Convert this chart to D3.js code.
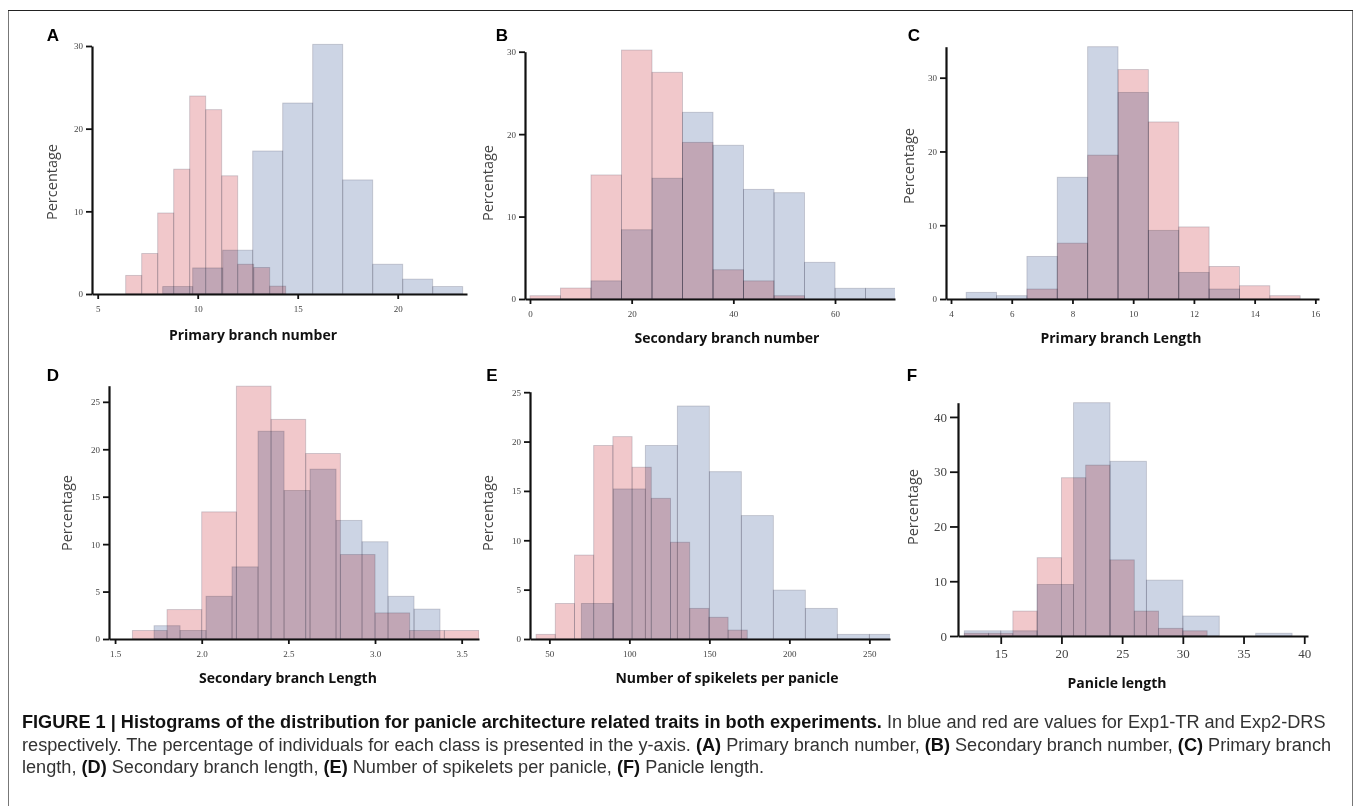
<!DOCTYPE html>
<html lang="en">
<head>
<meta charset="utf-8">
<title>Figure 1 - panicle histograms</title>
<style>
  body { margin: 0; background: #fff; }
  .tick text { font-family: "Liberation Serif", "DejaVu Serif", serif; fill: #444; }
  .axis .domain { stroke: #111; stroke-width: 2.2; }
  .axis .tick line { stroke: #111; stroke-width: 1.8; }
  .ylab { font-family: "Open Sans", sans-serif; font-size: 14.5px; fill: #444; }
  .xlab { font-family: "Open Sans", sans-serif; font-size: 14px; font-weight: bold; fill: #111; }
  .letter { font-family: "Liberation Sans", Arial, sans-serif; font-size: 17px; font-weight: bold; fill: #000; }
  .caption { font-family: "Liberation Sans", Arial, sans-serif; fill: #222; }
</style>
</head>
<body>
<script src="https://cdnjs.cloudflare.com/ajax/libs/d3/7.9.0/d3.min.js"></script>
<script>

// A - primary branch number
const aBlueEdges = [8.25, 9.75, 11.25, 12.75, 14.25, 15.75, 17.25, 18.75, 20.25, 21.75, 23.25];
const aBluePct = [0.9, 3.15, 5.3, 17.3, 23.1, 30.2, 13.8, 3.6, 1.8, 0.9];
const aRedEdges = [6.4, 7.2, 8.0, 8.8, 9.6, 10.4, 11.2, 12.0, 12.8, 13.6, 14.4];
const aRedPct = [2.25, 4.9, 9.8, 15.1, 23.95, 22.3, 14.3, 3.6, 3.2, 0.95];
const aXTicks = [5, 10, 15, 20];
const aYTicks = [0, 10, 20, 30];

// B - secondary branch number
const bBlueEdges = [12, 18, 24, 30, 36, 42, 48, 54, 60, 66, 72];
const bBluePct = [2.2, 8.4, 14.65, 22.65, 18.65, 13.3, 12.9, 4.45, 1.3, 1.3];
const bRedEdges = [0, 6, 12, 18, 24, 30, 36, 42, 48, 54];
const bRedPct = [0.4, 1.33, 15.05, 30.2, 27.5, 19.0, 3.55, 2.2, 0.4];
const bXTicks = [0, 20, 40, 60];
const bYTicks = [0, 10, 20, 30];

// C - primary branch length
const cBlueEdges = [4.5, 5.5, 6.5, 7.5, 8.5, 9.5, 10.5, 11.5, 12.5, 13.5];
const cBluePct = [0.9, 0.45, 5.77, 16.5, 34.2, 28.0, 9.3, 3.6, 1.35];
const cRedEdges = [6.5, 7.5, 8.5, 9.5, 10.5, 11.5, 12.5, 13.5, 14.5, 15.5];
const cRedPct = [1.35, 7.57, 19.5, 31.1, 24.0, 9.77, 4.41, 1.8, 0.45];
const cXTicks = [4, 6, 8, 10, 12, 14, 16];
const cYTicks = [0, 10, 20, 30];

// D - secondary branch length
const dBlueEdges = [1.725, 1.875, 2.025, 2.175, 2.325, 2.475, 2.625, 2.775, 2.925, 3.075, 3.225, 3.375];
const dBluePct = [1.4, 0.9, 4.5, 7.6, 21.9, 15.65, 17.9, 12.5, 10.25, 4.5, 3.15];
const dRedEdges = [1.6, 1.8, 2.0, 2.2, 2.4, 2.6, 2.8, 3.0, 3.2, 3.4, 3.6];
const dRedPct = [0.9, 3.1, 13.4, 26.65, 23.15, 19.55, 8.9, 2.75, 0.9, 0.9];
const dXTicks = [1.5, 2.0, 2.5, 3.0, 3.5];
const dYTicks = [0, 5, 10, 15, 20, 25];

// E - number of spikelets per panicle
const eBlueEdges = [70, 90, 110, 130, 150, 170, 190, 210, 230, 250, 270];
const eBluePct = [3.6, 15.2, 19.6, 23.6, 16.95, 12.5, 4.95, 3.1, 0.47, 0.47];
const eRedEdges = [41.7, 53.7, 65.7, 77.7, 89.7, 101.7, 113.7, 125.7, 137.7, 149.7, 161.7, 173.7];
const eRedPct = [0.47, 3.6, 8.5, 19.6, 20.5, 17.4, 14.25, 9.8, 3.1, 2.2, 0.9];
const eXTicks = [50, 100, 150, 200, 250];
const eYTicks = [0, 5, 10, 15, 20, 25];

// F - panicle length
const fBlueEdges = [12, 15, 18, 21, 24, 27, 30, 33, 36, 39];
const fBluePct = [0.95, 0.95, 9.4, 42.6, 31.9, 10.2, 3.65, 0, 0.5];
const fRedEdges = [12, 14, 16, 18, 20, 22, 24, 26, 28, 30, 32];
const fRedPct = [0.5, 0.5, 4.55, 14.3, 28.9, 31.2, 13.9, 4.55, 1.4, 0.95];
const fXTicks = [15, 20, 25, 30, 35, 40];
const fYTicks = [0, 10, 20, 30, 40];

const blueFill = "#ccd4e4";
const redFill = "#f1c8cb";

const panels = [
    {id: "A", title: "Primary branch number", blue: [aBlueEdges, aBluePct], red: [aRedEdges, aRedPct],
     xTicks: aXTicks, yTicks: aYTicks, fmt: "d", big: false,
     left: 92, right: 467, bottom: 294, top: 46, xDomain: [4.715, 23.465], yDomain: [0, 30],
     letter: [53, 35], ylab: [51, 182], xlab: [253, 340]},
    {id: "B", title: "Secondary branch number", blue: [bBlueEdges, bBluePct], red: [bRedEdges, bRedPct],
     xTicks: bXTicks, yTicks: bYTicks, fmt: "d", big: false,
     left: 525, right: 895, bottom: 299, top: 51.7, xDomain: [-0.98, 71.8], yDomain: [0, 30],
     letter: [502, 35], ylab: [487, 183], xlab: [727, 343]},
    {id: "C", title: "Primary branch Length", blue: [cBlueEdges, cBluePct], red: [cRedEdges, cRedPct],
     xTicks: cXTicks, yTicks: cYTicks, fmt: "d", big: false,
     left: 946, right: 1319, bottom: 299, top: 46.7, xDomain: [3.835, 16.12], yDomain: [0, 34.2],
     letter: [914, 35], ylab: [908, 166], xlab: [1121, 343]},
    {id: "D", title: "Secondary branch Length", blue: [dBlueEdges, dBluePct], red: [dRedEdges, dRedPct],
     xTicks: dXTicks, yTicks: dYTicks, fmt: ".1f", big: false,
     left: 109, right: 479, bottom: 639, top: 385.7, xDomain: [1.465, 3.60], yDomain: [0, 26.7],
     letter: [53, 375], ylab: [66, 513], xlab: [288, 683]},
    {id: "E", title: "Number of spikelets per panicle", blue: [eBlueEdges, eBluePct], red: [eRedEdges, eRedPct],
     xTicks: eXTicks, yTicks: eYTicks, fmt: "d", big: false,
     left: 530, right: 890, bottom: 639, top: 391.7, xDomain: [37.9, 262.9], yDomain: [0, 25.05],
     letter: [492, 375], ylab: [487, 513], xlab: [727, 683]},
    {id: "F", title: "Panicle length", blue: [fBlueEdges, fBluePct], red: [fRedEdges, fRedPct],
     xTicks: fXTicks, yTicks: fYTicks, fmt: "d", big: true,
     left: 958, right: 1308, bottom: 636, top: 402.7, xDomain: [11.48, 40.31], yDomain: [0, 42.6],
     letter: [912, 375], ylab: [912, 507], xlab: [1117, 688]}
];

const svg = d3.select("body")
    .append("svg")
    .attr("width", 1358)
    .attr("height", 806);

svg.append("rect").attr("width", 1358).attr("height", 806).attr("fill", "#fff");

// figure frame
svg.append("path")
    .attr("d", "M8.5,806 V10.5 H1352.5 V806")
    .attr("fill", "none")
    .attr("stroke", "#777")
    .attr("stroke-width", 1);
svg.append("line")
    .attr("x1", 8).attr("x2", 1353).attr("y1", 10.5).attr("y2", 10.5)
    .attr("stroke", "#222");

const defs = svg.append("defs");

panels.forEach(p => {
    const x = d3.scaleLinear().domain(p.xDomain).range([p.left, p.right]);
    const y = d3.scaleLinear().domain(p.yDomain).range([p.bottom, p.top]);
    const g = svg.append("g");

    defs.append("clipPath").attr("id", "clip" + p.id)
        .append("rect")
        .attr("x", p.left)
        .attr("y", p.top - 3)
        .attr("width", p.right - p.left)
        .attr("height", p.bottom - p.top + 3);

    const bars = g.append("g")
        .attr("clip-path", `url(#clip${p.id})`)
        .style("isolation", "isolate");

    [["blue", p.blue, blueFill], ["red", p.red, redFill]].forEach(([name, s, fill]) => {
        const bins = s[1].map((v, i) => ({x0: s[0][i], x1: s[0][i + 1], v: v}))
            .filter(d => d.v > 0);
        bars.selectAll("rect." + name)
            .data(bins)
            .join("rect")
            .attr("class", name)
            .attr("x", d => x(d.x0))
            .attr("width", d => x(d.x1) - x(d.x0))
            .attr("y", d => y(d.v))
            .attr("height", d => y(0) - y(d.v))
            .attr("fill", fill)
            .attr("stroke", "#55556a")
            .attr("stroke-opacity", 0.28)
            .attr("stroke-width", 0.9)
            .style("mix-blend-mode", "multiply");
    });

    const fontSize = p.big ? "13px" : "9px";

    g.append("g")
        .attr("class", "axis")
        .attr("transform", `translate(0,${p.bottom})`)
        .call(d3.axisBottom(x)
            .tickValues(p.xTicks)
            .tickFormat(d3.format(p.fmt))
            .tickSize(p.big ? 8 : 5)
            .tickSizeOuter(0)
            .tickPadding(p.big ? 5 : 7))
        .selectAll("text")
        .style("font-size", fontSize);

    g.append("g")
        .attr("class", "axis")
        .attr("transform", `translate(${p.left},0)`)
        .call(d3.axisLeft(y)
            .tickValues(p.yTicks)
            .tickSize(p.big ? 8 : 6)
            .tickSizeOuter(0)
            .tickPadding(3))
        .selectAll("text")
        .style("font-size", fontSize);

    g.append("text")
        .attr("class", "letter")
        .attr("x", p.letter[0]).attr("y", p.letter[1])
        .attr("text-anchor", "middle")
        .attr("dominant-baseline", "central")
        .text(p.id);

    g.append("text")
        .attr("class", "ylab")
        .attr("transform", `translate(${p.ylab[0]},${p.ylab[1]}) rotate(-90)`)
        .attr("text-anchor", "middle")
        .attr("dominant-baseline", "central")
        .text("Percentage");

    g.append("text")
        .attr("class", "xlab")
        .attr("x", p.xlab[0]).attr("y", p.xlab[1])
        .attr("text-anchor", "middle")
        .text(p.title);
});

// caption
const captionLines = [
    [["FIGURE 1 | Histograms of the distribution for panicle architecture related traits in both experiments.", true],
     [" In blue and red are values for Exp1-TR and Exp2-DRS", false]],
    [["respectively. The percentage of individuals for each class is presented in the y-axis. ", false],
     ["(A)", true], [" Primary branch number, ", false], ["(B)", true],
     [" Secondary branch number, ", false], ["(C)", true], [" Primary branch", false]],
    [["length, ", false], ["(D)", true], [" Secondary branch length, ", false], ["(E)", true],
     [" Number of spikelets per panicle, ", false], ["(F)", true], [" Panicle length.", false]]
];

const cap = svg.append("g").attr("class", "caption");
const capTexts = captionLines.map((line, i) => {
    const t = cap.append("text")
        .attr("x", 22)
        .attr("y", 728 + i * 22.5)
        .style("font-size", "16px");
    line.forEach(([s, b]) => {
        t.append("tspan")
            .attr("font-weight", b ? "bold" : "normal")
            .attr("fill", b ? "#111" : "#333")
            .text(s);
    });
    return t;
});

// fit the first two lines to their widths in the figure
const w0 = capTexts[0].node().getComputedTextLength();
const w1 = capTexts[1].node().getComputedTextLength();
const size = 16 * ((1340 - 22) / w0 + (1318 - 22) / w1) / 2;
capTexts.forEach(t => t.style("font-size", size.toFixed(2) + "px"));

</script>
</body>
</html>
